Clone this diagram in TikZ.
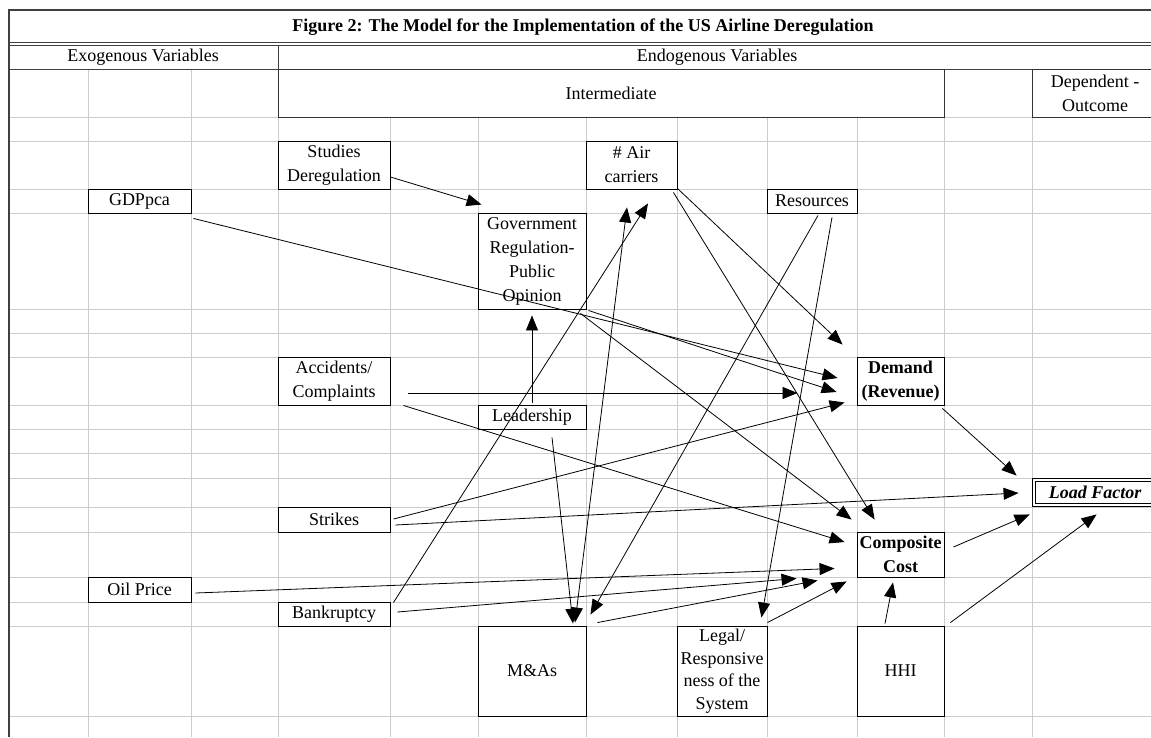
\documentclass[tikz,border=0pt]{standalone}
\usepackage{fontspec}
\setmainfont{Liberation Serif}
\usetikzlibrary{arrows.meta,calc,positioning}
\newcommand{\cellfont}{\fontsize{18}{24}\selectfont}
\tikzstyle{varbox} = [rectangle, draw=black, fill=white, line width=0.9pt, inner sep=0pt, align=center, font=\cellfont]
\tikzstyle{keyvar} = [varbox, font=\cellfont\bfseries]
\tikzstyle{outcome} = [varbox, double, double distance=2pt, font=\cellfont\bfseries\itshape]
\tikzstyle{header} = [rectangle, draw=black!80, line width=1pt, fill=white, inner sep=0pt, align=center, font=\cellfont]
\tikzstyle{headtext} = [inner sep=0pt, align=center, font=\cellfont]
\tikzstyle{gridline} = [gray!40, line width=0.9pt]
\tikzstyle{border} = [black!75, line width=1pt]
\tikzstyle{arrow} = [line width=0.8pt, ->, >={Triangle[length=15pt,width=12pt]}]

\begin{document}
\begin{tikzpicture}[x=1pt, y=-1pt]
\useasboundingbox (0,0) rectangle (1151,737);
\clip (0,0) rectangle (1151,737);
\fill[white] (0,0) rectangle (1151,737);
% spreadsheet grid
\foreach \y in {117,141,189,213,309,333,357,405,429,453,478,507,532,577,602,626,716}
  \draw[gridline] (9,\y) -- (1151,\y);
\foreach \x in {88,191,278,390,478,586,677,767,857,944,1032}
  \draw[gridline] (\x,69) -- (\x,737);
% table frame
\draw[border, line width=2pt] (9,737) -- (9,10) -- (1160,10);
\draw[border] (9,42) -- (1160,42) (9,45) -- (1160,45) (9,69) -- (1160,69) (278,45) -- (278,69);

\node (title) at (583,27) [headtext, font=\cellfont\bfseries] {Figure 2: The Model for the Implementation of the US Airline Deregulation};
\node (exo) at (143,57) [headtext] {Exogenous Variables};
\node (endo) at (717,57) [headtext] {Endogenous Variables};
\node (inter) at (611,93) [header, minimum width=666pt, minimum height=48pt] {Intermediate};
\node (dep) at (1095,93) [header, minimum width=126pt, minimum height=48pt] {Dependent -\\Outcome};

\node (studies) at (334,165) [varbox, minimum width=112pt, minimum height=48pt] {Studies\\Deregulation};
\node (gdp) at (139.5,201) [varbox, minimum width=103pt, minimum height=24pt] {GDPpca};
\node (air) at (631.5,165) [varbox, minimum width=91pt, minimum height=48pt] {\# Air\\carriers};
\node (gov) at (532,261) [varbox, minimum width=108pt, minimum height=96pt] {Government\\Regulation-\\Public\\Opinion};
\node (res) at (812,201) [varbox, minimum width=90pt, minimum height=24pt] {Resources};
\node (acc) at (334,381) [varbox, minimum width=112pt, minimum height=48pt] {Accidents/\\Complaints};
\node (lead) at (532,417) [varbox, minimum width=108pt, minimum height=24pt] {Leadership};
\node (dem) at (900.5,381) [keyvar, minimum width=87pt, minimum height=48pt] {Demand\\(Revenue)};
\node (strk) at (334,519.5) [varbox, minimum width=112pt, minimum height=25pt] {Strikes};
\node (load) at (1095,492.5) [outcome, minimum width=122pt, minimum height=25pt] {Load Factor};
\node (cost) at (900.5,554.5) [keyvar, minimum width=87pt, minimum height=45pt] {Composite\\Cost};
\node (oil) at (139.5,589.5) [varbox, minimum width=103pt, minimum height=25pt] {Oil Price};
\node (bank) at (334,614) [varbox, minimum width=112pt, minimum height=24pt] {Bankruptcy};
\node (mna) at (532,671) [varbox, minimum width=108pt, minimum height=90pt] {M\&As};
\node (legal) at (722,671) [varbox, minimum width=90pt, minimum height=90pt, font=\fontsize{18}{22.5}\selectfont] {Legal/\\Responsive\\ness of the\\System};
\node (hhi) at (900.5,671) [varbox, minimum width=87pt, minimum height=90pt] {HHI};

\draw [arrow] ($(studies.east)+(0,12)$) -- ($(gov.north west)+(4,-8)$);
\draw [arrow] ($(gdp.south east)+(2,5)$) -- ($(dem.west)+(-19,-3)$);
\draw [arrow] ($(gov.south east)+(2,1)$) -- ($(dem.west)+(-20,11)$);
\draw [arrow] ($(gov.south east)+(-6,4)$) -- ($(cost.north west)+(-5,-12)$);
\draw [arrow] ($(air.south east)+(0,-1)$) -- ($(dem.north west)+(-14,-12)$);
\draw [arrow] ($(air.south east)+(-4,3)$) -- ($(cost.north west)+(18,-12)$);
\draw [arrow] ($(acc.east)+(18,12)$) -- ($(dem.west)+(-59,12)$);
\draw [arrow] ($(acc.south east)+(13,0)$) -- ($(cost.west)+(-12,-12.5)$);
\draw [arrow] ($(lead.north)+(0,-2)$) -- ($(gov.south)+(0,6)$);
\draw [arrow] ($(lead.south)+(20,8)$) -- ($(mna.north)+(41,-2)$);
\draw [arrow, <->] ($(mna.north)+(43,-3)$) -- ($(air.south)+(-4.5,18)$);
\draw [arrow] ($(bank.north east)+(3,1)$) -- ($(air.south)+(16.5,14)$);
\draw [arrow] ($(res.south)+(6,2)$) -- ($(mna.north east)+(4,-11)$);
\draw [arrow] ($(res.south)+(20,4)$) -- ($(legal.north east)+(-6,-8)$);
\draw [arrow] ($(strk.east)+(3,-0.5)$) -- ($(dem.south west)+(-12,-3)$);
\draw [arrow] ($(strk.east)+(5,5.5)$) -- ($(load.west)+(-15,0.5)$);
\draw [arrow] ($(oil.east)+(4,3.5)$) -- ($(cost.south west)+(-22,-9)$);
\draw [arrow] ($(bank.east)+(7,-2)$) -- ($(cost.south west)+(-60,1)$);
\draw [arrow] ($(mna.north east)+(11,-3)$) -- ($(cost.south west)+(-39,3)$);
\draw [arrow] ($(legal.north east)+(0,-3)$) -- ($(cost.south west)+(-10,4)$);
\draw [arrow] ($(hhi.north)+(-15.5,-2)$) -- ($(cost.south)+(-7.5,5)$);
\draw [arrow] ($(hhi.north east)+(6,-3)$) -- ($(load.south west)+(63,9)$);
\draw [arrow] ($(cost.east)+(9,-7.5)$) -- ($(load.south west)+(-4,9)$);
\draw [arrow] ($(dem.south east)+(-2,3)$) -- ($(load.north west)+(-17,-4)$);
\end{tikzpicture}
\end{document}
